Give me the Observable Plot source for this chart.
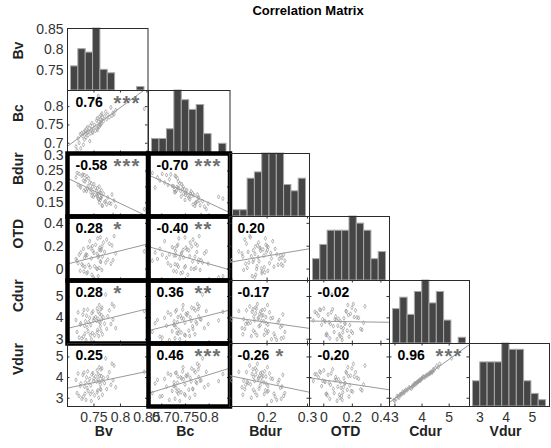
<!DOCTYPE html>
<html><head><meta charset="utf-8">
<script src="https://cdn.jsdelivr.net/npm/d3@7"></script>
<script src="https://cdn.jsdelivr.net/npm/@observablehq/plot@0.6"></script>
<style>
html,body{margin:0;padding:0;background:#fff;}
#chart{position:relative;width:551px;height:448px;overflow:hidden;background:#fff;font-family:Arial,"Liberation Sans",Helvetica,sans-serif;}
#chart svg{position:absolute;overflow:visible;background:transparent;max-width:none;}
#chart g[font-size="20"] text{letter-spacing:1.2px;}
#title{position:absolute;left:0;top:3px;width:616px;text-align:center;font-weight:bold;font-size:13px;color:#000;}
</style></head>
<body><div id="chart"><div id="title">Correlation Matrix</div></div>
<script>
// ---------- data ----------
const variables = ["Bv","Bc","Bdur","OTD","Cdur","Vdur"];

const Bv = [.716,.718,.720,.722,.724,.725,.727,.729,.730,.731,.732,.733,.734,.735,.736,.737,.738,.739,.740,.742,
            .743,.744,.745,.746,.747,.748,.749,.750,.751,.753,.755,.756,.756,.757,.758,.758,.759,.760,.760,.761,
            .762,.762,.763,.763,.764,.765,.765,.766,.768,.770,.772,.774,.776,.779,.782,.784,.786,.788,.791,.845];
const Bc = [.691,.680,.713,.701,.725,.686,.728,.719,.696,.731,.710,.735,.726,.716,.740,.730,.744,.722,.733,.706,
            .748,.727,.738,.755,.732,.729,.820,.742,.750,.734,.762,.741,.768,.736,.746,.829,.759,.745,.772,.751,
            .765,.749,.777,.757,.753,.781,.763,.770,.760,.774,.786,.766,.778,.771,.798,.775,.783,.779,.790,.794];
const Bdur = [.230,.244,.206,.241,.202,.198,.235,.239,.220,.188,.237,.217,.192,.224,.187,.233,.194,.203,.227,.214,
              .193,.183,.211,.172,.200,.184,.169,.209,.175,.197,.186,.170,.174,.196,.178,.163,.161,.201,.151,.182,
              .180,.159,.165,.166,.190,.142,.171,.140,.179,.153,.155,.145,.167,.149,.147,.176,.112,.157,.138,.130];
const OTD = [.088,.073,.052,.125,-.015,.146,.042,.030,.177,-.022,.098,.020,.117,.129,-.036,.121,-.029,.192,.037,.244,
             .015,.182,.093,-.050,.202,.159,-.073,.141,.025,.213,.005,.133,.000,.268,.103,-.062,.113,.168,.010,.187,
             .067,.278,.062,.164,.172,-.008,.197,.109,.232,.150,.057,.258,.083,.222,.047,.207,.078,.288,.137,.155];
const Cdur = [3.90,3.34,4.26,3.08,3.68,3.75,3.04,4.16,3.12,4.37,3.63,3.26,3.84,2.96,4.10,3.56,4.39,3.37,3.80,4.00,
              3.20,3.66,3.00,4.22,3.29,4.30,3.88,3.98,3.18,4.04,3.86,3.32,4.44,3.44,3.96,4.28,3.15,4.60,3.82,4.19,
              3.61,3.77,4.41,3.40,4.13,3.94,4.48,3.23,4.02,3.73,5.09,3.48,4.07,4.35,3.71,4.65,3.92,4.54,3.52,4.32];
const Vdur = [3.89,3.25,4.20,3.11,3.59,3.71,2.97,4.13,3.08,4.24,3.56,3.22,3.77,2.92,4.01,3.50,4.30,3.35,3.75,3.94,
              3.20,3.62,2.87,4.15,3.32,4.22,3.83,3.96,3.14,4.05,3.81,3.29,4.35,3.38,3.92,4.17,3.02,4.50,3.79,4.09,
              3.46,3.67,4.40,3.41,4.07,3.85,4.45,3.17,3.99,3.73,4.93,3.44,4.03,4.26,3.65,4.67,3.87,4.58,3.53,4.28];

// histogram counts (10 equal bins from min to max)
const histBv   = [7,12,11,18,6,5,0,0,0,1];
const histBc   = [3,3,5,13,11,9,10,4,0,2];
const histBdur = [1,1,6,7,10,10,10,5,4,6];
const histOTD  = [3,5,7,7,7,9,8,7,3,4];
const histCdur = [6,8,5,9,11,7,9,4,0,1];
const histVdur = [4,7,7,7,10,9,9,4,2,1];

// axis limits
const domBv   = [0.700, 0.852];
const domBc   = [0.672, 0.844];
const domBdur = [0.107, 0.305];
const domOTD  = [-0.10, 0.46];
const domCdur = [2.80, 5.75];
const domVdur = [2.60, 5.65];

// tick values
const yTicksBv = [0.75,0.8,0.85],  xTicksBv = [0.75,0.8,0.85];
const yTicksBc = [0.7,0.75,0.8],   xTicksBc = [0.7,0.75,0.8];
const yTicksBdur = [0.15,0.2,0.25,0.3], xTicksBdur = [0.2,0.3];
const yTicksOTD = [0,0.2,0.4],     xTicksOTD = [0,0.2,0.4];
const yTicksCdur = [3,4,5],        xTicksCdur = [3,4,5];
const yTicksVdur = [3,4,5],        xTicksVdur = [3,4,5];

// lower-triangle pairs
const pairRow = ["Bc","Bdur","Bdur","OTD","OTD","OTD","Cdur","Cdur","Cdur","Cdur","Vdur","Vdur","Vdur","Vdur","Vdur"];
const pairCol = ["Bv","Bv","Bc","Bv","Bc","Bdur","Bv","Bc","Bdur","OTD","Bv","Bc","Bdur","OTD","Cdur"];
const corrR   = [0.76,-0.58,-0.70,0.28,-0.40,0.20,0.28,0.36,-0.17,-0.02,0.25,0.46,-0.26,-0.20,0.96];
const corrStars = ["***","***","***","*","**","","*","**","","","","***","*","","***"];
const highlighted = [false,true,true,true,true,false,true,true,false,false,false,true,false,false,false];

// ---------- lookups ----------
const data = {Bv, Bc, Bdur, OTD, Cdur, Vdur};
const hist = {Bv: histBv, Bc: histBc, Bdur: histBdur, OTD: histOTD, Cdur: histCdur, Vdur: histVdur};
const dom = {Bv: domBv, Bc: domBc, Bdur: domBdur, OTD: domOTD, Cdur: domCdur, Vdur: domVdur};
const yTicks = {Bv: yTicksBv, Bc: yTicksBc, Bdur: yTicksBdur, OTD: yTicksOTD, Cdur: yTicksCdur, Vdur: yTicksVdur};
const xTicks = {Bv: xTicksBv, Bc: xTicksBc, Bdur: xTicksBdur, OTD: xTicksOTD, Cdur: xTicksCdur, Vdur: xTicksVdur};

// ---------- layout ----------
const colX = [67, 147.5, 229, 309, 389, 469, 549];
const rowY = [28, 90, 153, 216, 280, 343, 406];
const pad = 4;
const fontFam = "Arial, 'Liberation Sans', Helvetica, sans-serif";
const chart = document.getElementById("chart");
function place(svg, left, top) {
  svg.style.left = left + "px";
  svg.style.top = top + "px";
  chart.appendChild(svg);
}
const baseStyle = {background: "transparent", overflow: "visible", fontFamily: fontFam, fontSize: "14px", color: "#333"};
const inside = (v, d) => v >= Math.min(...d) - 1e-9 && v <= Math.max(...d) + 1e-9;

function regLine(xs, ys, r, xd) {
  const mx = d3.mean(xs), my = d3.mean(ys), sx = d3.deviation(xs), sy = d3.deviation(ys);
  const b = r * sy / sx;
  return xd.map(x => ({x, y: my + b * (x - mx)}));
}

// ---------- cells ----------
for (let r = 0; r < 6; r++) {
  for (let c = 0; c <= r; c++) {
    const xv = variables[c], yv = variables[r];
    const w = colX[c + 1] - colX[c], h = rowY[r + 1] - rowY[r];
    const marks = [];
    let xs, ys, thick = false;
    if (r === c) {
      const counts = hist[xv];
      const [mn, mx] = d3.extent(data[xv]);
      const step = (mx - mn) / counts.length;
      const bins = counts.map((n, k) => ({lo: mn + k * step, hi: mn + (k + 1) * step, n})).filter(b => b.n > 0);
      xs = {domain: [mn, mx], inset: 3.5};
      ys = {domain: [0, d3.max(counts)]};
      marks.push(Plot.rect(bins, {x1: "lo", x2: "hi", y1: 0, y2: "n", fill: "#454545", stroke: "#a8a8a8", strokeWidth: 1}));
    } else {
      const pi = pairRow.findIndex((rv, k) => rv === yv && pairCol[k] === xv);
      thick = highlighted[pi];
      xs = {domain: dom[xv]};
      ys = {domain: dom[yv]};
      const pts = data[xv].map((v, k) => ({x: v, y: data[yv][k]}));
      marks.push(Plot.line(regLine(data[xv], data[yv], corrR[pi], dom[xv]), {x: "x", y: "y", stroke: "#999", strokeWidth: 1, clip: true}));
      marks.push(Plot.dot(pts, {x: "x", y: "y", symbol: "diamond", r: 1.25, stroke: "#9a9a9a", strokeWidth: 0.7, fill: "none"}));
      const xt = xTicks[xv].filter(v => inside(v, dom[xv]));
      const yt = yTicks[yv].filter(v => inside(v, dom[yv]));
      marks.push(Plot.tickX(xt, {x: d => d, stroke: "#333", insetTop: h - 2.5}));
      marks.push(Plot.tickX(xt, {x: d => d, stroke: "#333", insetBottom: h - 2.5}));
      marks.push(Plot.tickY(yt, {y: d => d, stroke: "#333", insetRight: w - 2.5}));
      marks.push(Plot.tickY(yt, {y: d => d, stroke: "#333", insetLeft: w - 2.5}));
      marks.push(Plot.text([corrR[pi].toFixed(2)], {frameAnchor: "top-left", text: d => d, dx: 8, dy: 7,
        textAnchor: "start", lineAnchor: "top", fontSize: 14, fontWeight: "bold", fill: "#000"}));
      if (corrStars[pi]) {
        marks.push(Plot.text([corrStars[pi]], {frameAnchor: "top-left", text: d => d, dx: 46, dy: 5,
          textAnchor: "start", lineAnchor: "top", fontSize: 20, fontWeight: "bold", fill: "#6f6f6f"}));
      }
    }
    marks.push(Plot.frame({stroke: thick ? "#000" : "#2a2a2a", strokeWidth: thick ? 4.5 : 1}));
    const svg = Plot.plot({
      width: w + 2 * pad, height: h + 2 * pad, margin: pad,
      x: {...xs, axis: null}, y: {...ys, axis: null},
      style: baseStyle, marks
    });
    place(svg, colX[c] - pad, rowY[r] - pad);
  }
}

// ---------- row axes (left) ----------
for (let r = 0; r < 6; r++) {
  const v = variables[r], h = rowY[r + 1] - rowY[r];
  const svg = Plot.plot({
    width: colX[0] + 2, height: h, marginTop: 0, marginBottom: 0, marginLeft: colX[0], marginRight: 2,
    y: {domain: dom[v], axis: null},
    style: baseStyle,
    marks: [
      Plot.axisY(yTicks[v], {anchor: "left", tickSize: 0, tickPadding: 4, tickFormat: d => String(d), label: null, fill: "#333"}),
      Plot.text([v], {frameAnchor: "left", text: d => d, dx: -49, rotate: -90, fontSize: 14, fontWeight: "bold", fill: "#222"})
    ]
  });
  place(svg, 0, rowY[r]);
}

// ---------- column axes (bottom) ----------
for (let c = 0; c < 6; c++) {
  const v = variables[c], w = colX[c + 1] - colX[c];
  const svg = Plot.plot({
    width: w, height: 31, marginTop: 1, marginBottom: 30, marginLeft: 0, marginRight: 0,
    x: {domain: dom[v], axis: null},
    style: baseStyle,
    marks: [
      Plot.axisX(xTicks[v], {anchor: "bottom", tickSize: 0, tickPadding: 6, tickFormat: d => String(d), label: null, fill: "#333"}),
      Plot.text([v], {frameAnchor: "bottom", text: d => d, dx: -4, dy: 29, fontSize: 14, fontWeight: "bold", fill: "#222"})
    ]
  });
  place(svg, colX[c], rowY[6] - 1);
}
</script>
</body></html>
